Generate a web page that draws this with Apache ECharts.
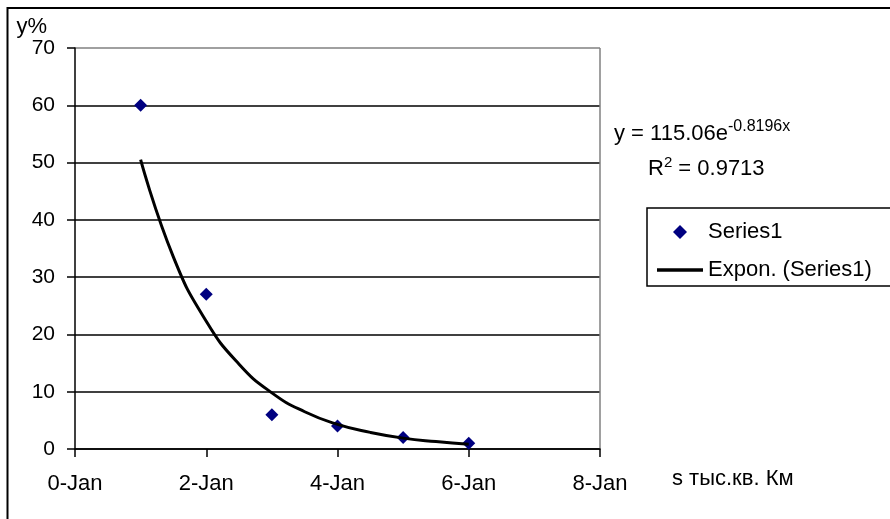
<!DOCTYPE html>
<html>
<head>
<meta charset="utf-8">
<script src="https://cdn.jsdelivr.net/npm/echarts@6/dist/echarts.min.js"></script>
<style>
  html, body { margin: 0; padding: 0; background: #fff; }
  #chart { width: 890px; height: 519px; }
</style>
</head>
<body>
<div id="chart"></div>
<script>
// measured points (Series1)
var pointX = [1, 2, 3, 4, 5, 6];
var pointY = [60, 27, 6, 4, 2, 1];
// trendline
var trendX = [1, 1.5, 2, 2.5, 3, 3.5, 4, 4.5, 5, 5.5, 6];
var trendY = [50.5, 33.5, 22.3, 14.8, 9.8, 6.5, 4.3, 2.9, 1.9, 1.3, 0.85];
var xTickLabels = ['0-Jan', '2-Jan', '4-Jan', '6-Jan', '8-Jan'];

var font = 'Liberation Sans, Arial, sans-serif';

var myChart = echarts.init(document.getElementById('chart'));

var pts = pointX.map(function (x, i) { return [x, pointY[i]]; });
var trend = trendX.map(function (x, i) { return [x, trendY[i]]; });

var option = {
  backgroundColor: '#fff',
  animation: false,
  grid: { left: 75, right: 290, top: 48, bottom: 70 },
  xAxis: {
    type: 'value',
    min: 0, max: 8, interval: 2,
    name: 's тыс.кв. Км',
    nameLocation: 'end',
    nameGap: 72,
    nameTextStyle: { color: '#000', fontFamily: font, fontSize: 22, verticalAlign: 'top', padding: [19, 0, 0, 0] },
    axisLine: { lineStyle: { color: '#000', width: 1.5 } },
    axisTick: { show: true, length: 8, lineStyle: { color: '#000', width: 1.5 } },
    axisLabel: {
      color: '#000', fontFamily: font, fontSize: 22, margin: 24,
      formatter: function (v) { return xTickLabels[Math.round(v / 2)]; }
    },
    splitLine: { show: true, lineStyle: { color: ['transparent', 'transparent', 'transparent', 'transparent', '#808080'], width: 1.5 } }
  },
  yAxis: {
    type: 'value',
    min: 0, max: 70, interval: 10,
    name: 'y%',
    nameLocation: 'end',
    nameGap: 8,
    nameTextStyle: { color: '#000', fontFamily: font, fontSize: 22, align: 'right', padding: [0, 28, 0, 0] },
    axisLine: { show: true, lineStyle: { color: '#000', width: 1.5 } },
    axisTick: { show: true, length: 8, lineStyle: { color: '#000', width: 1.5 } },
    axisLabel: { color: '#000', fontFamily: font, fontSize: 21, margin: 20 },
    splitLine: { show: true, lineStyle: { color: ['#000', '#000', '#000', '#000', '#000', '#000', '#000', '#808080'], width: 1.5 } }
  },
  legend: {
    orient: 'vertical',
    left: 647, top: 208,
    padding: [13, 80, 5, 10],
    itemWidth: 46, itemHeight: 14, itemGap: 16,
    symbolKeepAspect: true,
    borderColor: '#000', borderWidth: 1.5,
    textStyle: { color: '#000', fontFamily: font, fontSize: 22 },
    data: [
      { name: 'Series1', icon: 'path://M5 0L10 5L5 10L0 5Z' },
      { name: 'Expon. (Series1)', icon: 'path://M0 0H42V3H0Z' }
    ]
  },
  graphic: [
    {
      type: 'rect', silent: true,
      shape: { x: 7.5, y: 8, width: 900, height: 530 },
      style: { fill: 'none', stroke: '#000', lineWidth: 2 }
    },
    {
      type: 'text', left: 614, top: 119,
      style: {
        text: '{b|y = 115.06e}{s|-0.8196x}',
        rich: {
          b: { fontFamily: font, fontSize: 22, fill: '#000', verticalAlign: 'bottom' },
          s: { fontFamily: font, fontSize: 16, fill: '#000', verticalAlign: 'top', padding: [0, 0, 10, 0] }
        }
      }
    },
    {
      type: 'text', left: 648, top: 155,
      style: {
        text: '{b|R}{s|2}{b| = 0.9713}',
        rich: {
          b: { fontFamily: font, fontSize: 22, fill: '#000', verticalAlign: 'bottom' },
          s: { fontFamily: font, fontSize: 15, fill: '#000', verticalAlign: 'top', padding: [0, 0, 10, 0] }
        }
      }
    }
  ],
  series: [
    {
      name: 'Series1',
      type: 'scatter',
      symbol: 'diamond',
      symbolSize: 13,
      itemStyle: { color: '#000080', opacity: 1 },
      data: pts,
      z: 3
    },
    {
      name: 'Expon. (Series1)',
      type: 'line',
      smooth: true,
      showSymbol: false,
      symbol: 'none',
      itemStyle: { color: '#000' },
      lineStyle: { color: '#000', width: 3 },
      data: trend,
      z: 4
    }
  ]
};

myChart.setOption(option, true);
window.addEventListener('resize', function () {
  myChart.resize();
});
</script>
</body>
</html>
